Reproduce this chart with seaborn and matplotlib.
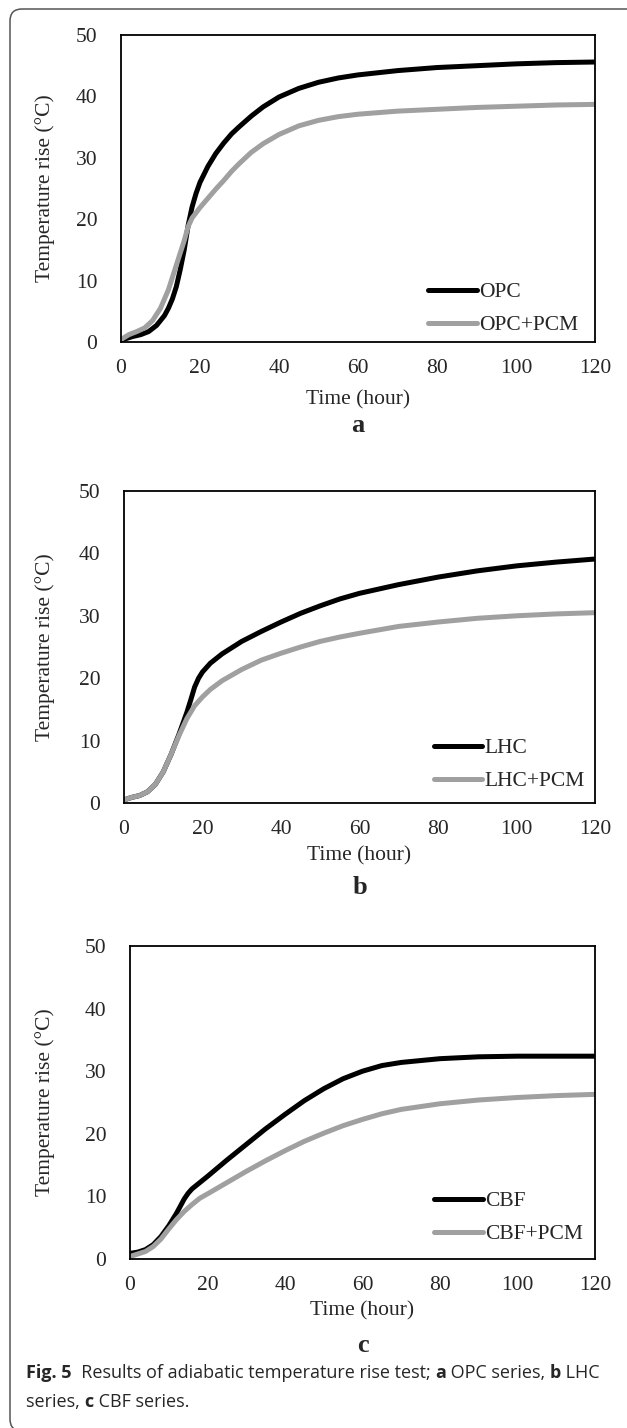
import numpy as np
import pandas as pd
import matplotlib
matplotlib.use("Agg")
import matplotlib.pyplot as plt
from matplotlib.patches import FancyBboxPatch
import seaborn as sns

# ---- data (hours, temperature rise in degC) ----
opc_t = [0, 3, 5, 7, 9, 11, 12, 13, 14, 15, 16, 17, 18, 19, 20, 22, 24, 26, 28, 30,
         33, 36, 40, 45, 50, 55, 60, 70, 80, 90, 100, 110, 120]
opc_v = [0.3, 0.9, 1.2, 1.7, 2.7, 4.3, 5.5, 7.0, 9.0, 11.8, 15.0, 19.0, 22.0, 24.2, 26.0,
         28.6, 30.7, 32.4, 33.9, 35.1, 36.8, 38.3, 39.9, 41.3, 42.3, 43.0, 43.5, 44.2,
         44.7, 45.0, 45.3, 45.5, 45.6]
opc_pcm_t = [0, 2, 4, 6, 8, 10, 12, 14, 16, 17, 18, 20, 22, 24, 26, 28, 30, 33, 36, 40,
             45, 50, 55, 60, 70, 80, 90, 100, 110, 120]
opc_pcm_v = [0.4, 1.2, 1.7, 2.3, 3.5, 5.5, 8.5, 12.5, 16.5, 18.8, 20.2, 21.9, 23.4, 24.9,
             26.3, 27.8, 29.1, 30.9, 32.3, 33.8, 35.2, 36.1, 36.7, 37.1, 37.6, 37.9,
             38.2, 38.4, 38.6, 38.7]

lhc_t = [0, 2, 4, 6, 8, 10, 12, 14, 16, 17, 18, 19, 20, 22, 25, 30, 35, 40, 45, 50, 55,
         60, 70, 80, 90, 100, 110, 120]
lhc_v = [0.5, 0.9, 1.2, 1.8, 3.0, 5.0, 7.8, 11.0, 14.5, 16.5, 18.6, 20.0, 21.0, 22.4,
         23.9, 25.9, 27.5, 29.0, 30.4, 31.6, 32.7, 33.6, 35.0, 36.2, 37.2, 38.0, 38.6, 39.1]
lhc_pcm_t = [0, 2, 4, 6, 8, 10, 12, 14, 16, 18, 20, 22, 25, 30, 35, 40, 45, 50, 55, 60,
             70, 80, 90, 100, 110, 120]
lhc_pcm_v = [0.5, 0.9, 1.2, 1.8, 3.0, 5.0, 7.8, 10.8, 13.5, 15.6, 17.0, 18.2, 19.6, 21.4,
             22.9, 24.0, 25.0, 25.9, 26.6, 27.2, 28.3, 29.0, 29.6, 30.0, 30.3, 30.5]

cbf_t = [0, 2, 4, 6, 8, 10, 12, 14, 15, 16, 18, 20, 25, 30, 35, 40, 45, 50, 55, 60, 65,
         70, 80, 90, 100, 110, 120]
cbf_v = [0.9, 1.1, 1.5, 2.3, 3.6, 5.3, 7.3, 9.6, 10.5, 11.2, 12.2, 13.2, 15.8, 18.3, 20.8,
         23.1, 25.3, 27.2, 28.8, 30.0, 30.9, 31.4, 32.0, 32.3, 32.4, 32.4, 32.4]
cbf_pcm_t = [0, 2, 4, 6, 8, 10, 12, 14, 16, 18, 20, 25, 30, 35, 40, 45, 50, 55, 60, 65,
             70, 80, 90, 100, 110, 120]
cbf_pcm_v = [0.4, 0.8, 1.2, 2.0, 3.2, 4.8, 6.3, 7.6, 8.7, 9.7, 10.4, 12.2, 14.0, 15.7,
             17.3, 18.8, 20.1, 21.3, 22.3, 23.2, 23.9, 24.8, 25.4, 25.8, 26.1, 26.3]

panels = [
    ("a", "OPC", opc_t, opc_v, "OPC+PCM", opc_pcm_t, opc_pcm_v),
    ("b", "LHC", lhc_t, lhc_v, "LHC+PCM", lhc_pcm_t, lhc_pcm_v),
    ("c", "CBF", cbf_t, cbf_v, "CBF+PCM", cbf_pcm_t, cbf_pcm_v),
]

# ---- layout (pixels of the 627x1428 image) ----
W, H = 627, 1428
axes_px = [(121, 595, 35, 342), (124, 595, 491, 803), (130, 595, 946, 1259)]
legend_anchor = [(0.648, 0.022), (0.658, 0.037), (0.654, 0.047)]
xlabel_y = [400, 856, 1311]
letter_y = [425, 887, 1345]
fs = 15.5

sns.set_style("white")
plt.rcParams["font.family"] = ["Liberation Serif", "DejaVu Serif"]
plt.rcParams["lines.solid_capstyle"] = "round"

fig = plt.figure(figsize=(W / 100, H / 100), dpi=100)

for i, (letter, n1, t1, v1, n2, t2, v2) in enumerate(panels):
    l, r, t, b = axes_px[i]
    ax = fig.add_axes([l / W, 1 - b / H, (r - l) / W, (b - t) / H])
    sns.lineplot(x=t1, y=v1, ax=ax, color="black", linewidth=3.6, label=n1)
    sns.lineplot(x=t2, y=v2, ax=ax, color="#a0a0a0", linewidth=3.6, label=n2)
    ax.set_xlim(0, 120)
    ax.set_ylim(0, 50)
    ax.set_xticks(np.arange(0, 121, 20))
    ax.set_yticks(np.arange(0, 51, 10))
    ax.tick_params(axis="both", length=0, labelsize=fs)
    ax.tick_params(axis="y", pad=17)
    ax.tick_params(axis="x", pad=12)
    for sp in ax.spines.values():
        sp.set_color("black")
        sp.set_linewidth(1.3)
    ax.set_ylabel("Temperature rise (°C)", fontsize=fs)
    ax.yaxis.set_label_coords((55 - l) / (r - l), 0.5)
    ax.set_xlabel("")
    fig.text(0.5 * (l + r) / W, 1 - xlabel_y[i] / H, "Time (hour)", fontsize=fs,
             ha="center", va="center")
    fig.text(0.5 * (l + r) / W, 1 - letter_y[i] / H, letter, fontsize=19,
             fontweight="bold", ha="center", va="center")
    ax.legend(loc="lower left", bbox_to_anchor=legend_anchor[i], frameon=False,
              fontsize=fs, handlelength=2.25, handletextpad=0.1, labelspacing=0.6,
              borderpad=0, borderaxespad=0)

# ---- caption with bold fragments ----
renderer = fig.canvas.get_renderer()
cap_font = ["Open Sans", "DejaVu Sans"]
cap_size = 13


def rich_line(x_px, y_px, parts):
    x = x_px
    for s, bold in parts:
        txt = fig.text(x / W, 1 - y_px / H, s, family=cap_font, fontsize=cap_size,
                       fontweight="bold" if bold else "normal", ha="left", va="center")
        x += txt.get_window_extent(renderer).width


rich_line(26, 1373, [("Fig. 5", True), ("  Results of adiabatic temperature rise test; ", False),
                     ("a", True), (" OPC series, ", False), ("b", True), (" LHC", False)])
rich_line(26, 1402, [("series, ", False), ("c", True), (" CBF series.", False)])

# rounded frame around the figure (left/top visible)
frame = FancyBboxPatch((10 / 100, -3 / 100), 6.6, (H - 9 + 3) / 100,
                       boxstyle="round,pad=0,rounding_size=0.12",
                       transform=fig.dpi_scale_trans, facecolor="none",
                       edgecolor="#555555", linewidth=1.1)
fig.patches.append(frame)

fig.savefig("out.png", dpi=100)
